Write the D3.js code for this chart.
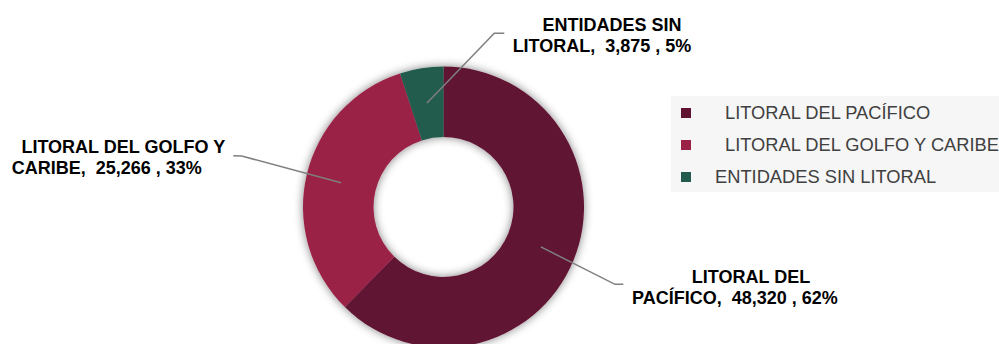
<!DOCTYPE html>
<meta charset="utf-8">

<!-- Load d3.js -->
<script src="https://d3js.org/d3.v7.min.js"></script>

<style>
  body { margin: 0; background: #fff; }
  text { font-family: "Liberation Sans", Arial, sans-serif; }
</style>

<!-- Create a div where the graph will take place -->
<div id="my_dataviz"></div>

<script>

// data
var categories = ["LITORAL DEL PACÍFICO", "LITORAL DEL GOLFO Y CARIBE", "ENTIDADES SIN LITORAL"];
var values = [48320, 25266, 3875];
var percents = ["62%", "33%", "5%"];
var colors = ["#611232", "#9b2247", "#235b4e"];

// label text split on two lines, as in the reference
var labelLine1 = ["LITORAL DEL", "LITORAL DEL GOLFO Y", "ENTIDADES SIN"];
var labelLine2Name = ["PACÍFICO", "CARIBE", "LITORAL"];
// legend text offsets (the first two entries carry extra leading spaces)
var legendIndent = [44, 44, 34];

var width = 999, height = 344;
var cx = 443.5, cy = 207, outerR = 140.5, innerR = 70;

// where each data label sits (center of its two lines) and its elbow
var labelPos = [
  {x1: 751, x2: 735, y: 282.7, elbow: [615, 284.3], end: [623.3, 284.3]},
  {x1: 123.3, x2: 106.7, y: 152.7, elbow: [241.7, 156], end: [233.3, 155.7]},
  {x1: 612, x2: 602, y: 30.7, elbow: [494.3, 33.3], end: [504.3, 33.3]}
];

var fmt = d3.format(",");

// append the svg object to the body of the page
var svg = d3.select("#my_dataviz")
  .append("svg")
    .attr("width", width)
    .attr("height", height);

// soft shadow around the ring
var defs = svg.append("defs");
var filter = defs.append("filter")
    .attr("id", "shadow")
    .attr("x", "-20%").attr("y", "-20%")
    .attr("width", "140%").attr("height", "140%");
filter.append("feGaussianBlur")
    .attr("in", "SourceAlpha")
    .attr("stdDeviation", 5)
    .attr("result", "blur");
filter.append("feComponentTransfer")
  .append("feFuncA")
    .attr("type", "linear")
    .attr("slope", 0.5);
var merge = filter.append("feMerge");
merge.append("feMergeNode");
merge.append("feMergeNode").attr("in", "SourceGraphic");

// pie layout, clockwise from the top
var pie = d3.pie()
    .sort(null)
    .value(function(d) { return d; });
var arcs = pie(values);

var arc = d3.arc()
    .innerRadius(innerR)
    .outerRadius(outerR);

var ring = svg.append("g")
    .attr("transform", "translate(" + cx + "," + cy + ")")
    .attr("filter", "url(#shadow)");

ring.selectAll("path")
  .data(arcs)
  .enter()
  .append("path")
    .attr("d", arc)
    .attr("fill", function(d, i) { return colors[i]; });

// leader lines from slice centroid to label
svg.selectAll(".leader")
  .data(arcs)
  .enter()
  .append("polyline")
    .attr("class", "leader")
    .attr("points", function(d, i) {
      var c = arc.centroid(d);
      var p = labelPos[i];
      return [[cx + c[0], cy + c[1]], p.elbow, p.end].map(function(q) { return q.join(","); }).join(" ");
    })
    .attr("fill", "none")
    .attr("stroke", "#7f7f7f")
    .attr("stroke-width", 1.5);

// data labels
var labels = svg.selectAll(".lbl")
  .data(arcs)
  .enter()
  .append("text")
    .attr("class", "lbl")
    .attr("font-size", 18)
    .attr("font-weight", "bold")
    .attr("fill", "#000")
    .attr("text-anchor", "middle");

labels.append("tspan")
    .attr("x", function(d, i) { return labelPos[i].x1; })
    .attr("y", function(d, i) { return labelPos[i].y; })
    .text(function(d, i) { return labelLine1[i]; });

labels.append("tspan")
    .attr("x", function(d, i) { return labelPos[i].x2; })
    .attr("y", function(d, i) { return labelPos[i].y + 21; })
    .attr("xml:space", "preserve")
    .style("white-space", "pre")
    .text(function(d, i) { return labelLine2Name[i] + ",  " + fmt(values[i]) + " , " + percents[i]; });

// legend
var legend = svg.append("g")
    .attr("transform", "translate(671,96)");

legend.append("rect")
    .attr("width", 330)
    .attr("height", 96)
    .attr("fill", "#f6f6f6");

var items = legend.selectAll(".item")
  .data(categories)
  .enter()
  .append("g")
    .attr("class", "item")
    .attr("transform", function(d, i) { return "translate(0," + (16.5 + i * 32) + ")"; });

items.append("rect")
    .attr("x", 10)
    .attr("y", -4.5)
    .attr("width", 10)
    .attr("height", 10)
    .attr("fill", function(d, i) { return colors[i]; });

items.append("text")
    .attr("x", function(d, i) { return legendIndent[i] + 10; })
    .attr("y", 6.5)
    .attr("font-size", 18.3)
    .attr("fill", "#404040")
    .text(function(d) { return d; });

</script>
